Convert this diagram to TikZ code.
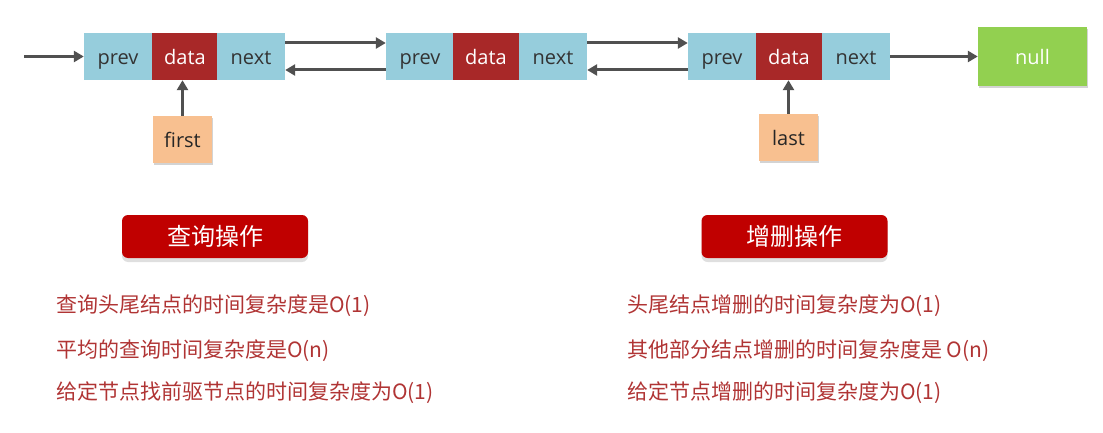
\documentclass[tikz,border=0pt]{standalone}
\usepackage{fontspec}
\setmainfont{Open Sans}
\newfontfamily\cjk{Noto Sans CJK SC}
\usetikzlibrary{arrows.meta,shadows}
\definecolor{cellblue}{RGB}{150,205,220}
\definecolor{datared}{RGB}{168,40,40}
\definecolor{peach}{RGB}{248,192,144}
\definecolor{nullgreen}{RGB}{146,208,80}
\definecolor{hdrred}{RGB}{192,0,0}
\definecolor{txtred}{RGB}{176,52,52}
\definecolor{arrgray}{RGB}{80,80,80}
\begin{document}
\begin{tikzpicture}[x=1pt,y=-1pt,
  cell/.style={fill=cellblue,minimum width=68pt,minimum height=47pt,inner sep=0pt,text=black!80,font=\fontsize{20}{20}\selectfont,text height=17pt,text depth=0pt},
  datacell/.style={cell,fill=datared,minimum width=66pt,text=white},
  ptr/.style={fill=peach,minimum width=59pt,minimum height=47pt,inner sep=0pt,text=black!85,font=\fontsize{20}{20}\selectfont,text height=17pt,text depth=0pt,drop shadow={shadow xshift=1pt,shadow yshift=-2pt,opacity=0.35}},
  nullbox/.style={fill=nullgreen,minimum width=109pt,minimum height=59pt,inner sep=0pt,text=white,font=\fontsize{20}{20}\selectfont,text height=17pt,text depth=0pt,drop shadow={shadow xshift=1pt,shadow yshift=-2pt,opacity=0.35}},
  hdr/.style={fill=hdrred,rounded corners=6pt,minimum width=186pt,minimum height=43pt,inner sep=0pt,text=white,font=\cjk\fontsize{24}{24}\selectfont,drop shadow={shadow xshift=0pt,shadow yshift=-4pt,opacity=0.25}},
  line/.style={anchor=west,inner sep=0pt,text=txtred,font=\cjk\fontsize{21}{21}\selectfont},
  arr/.style={draw=arrgray,line width=3pt,-{Triangle[length=10pt,width=11pt]}}
]
\useasboundingbox (0,0) rectangle (1103,433);
% node 1
\node[cell] (p1) at (118,56.5) {prev};
\node[datacell] (d1) at (185,56.5) {data};
\node[cell] (n1) at (251,56.5) {next};
% node 2
\node[cell] (p2) at (420,56.5) {prev};
\node[datacell] (d2) at (486,56.5) {data};
\node[cell] (n2) at (553,56.5) {next};
% node 3
\node[cell] (p3) at (722,56.5) {prev};
\node[datacell] (d3) at (789,56.5) {data};
\node[cell] (n3) at (856,56.5) {next};
% null
\node[nullbox] (nul) at (1032.5,56.5) {null};
% pointers
\node[ptr] (first) at (182.5,139.5) {first};
\node[ptr] (last) at (788.5,137.5) {last};
\coordinate (start) at (24,56.5);
% arrows
\draw[arr] (start) -- (p1.west);
\draw[arr] ([yshift=13.5pt]n1.east) -- ([yshift=13.5pt]p2.west);
\draw[arr] ([yshift=-13.5pt]p2.west) -- ([yshift=-13.5pt]n1.east);
\draw[arr] ([yshift=13.5pt]n2.east) -- ([yshift=13.5pt]p3.west);
\draw[arr] ([yshift=-13.5pt]p3.west) -- ([yshift=-13.5pt]n2.east);
\draw[arr] (n3.east) -- (nul.west);
\draw[arr] (first.north) -- (first.north |- d1.south);
\draw[arr] (last.north) -- (last.north |- d3.south);
% headers
\node[hdr] (h1) at (215,236.5) {查询操作};
\node[hdr] (h2) at (794.5,236.5) {增删操作};
% text lines
\node[line] (l1) at (56,306) {查询头尾结点的时间复杂度是O(1)};
\node[line] (l2) at (56,351) {平均的查询时间复杂度是O(n)};
\node[line] (l3) at (56,393) {给定节点找前驱节点的时间复杂度为O(1)};
\node[line] (r1) at (627,306) {头尾结点增删的时间复杂度为O(1)};
\node[line] (r2) at (627,351) {其他部分结点增删的时间复杂度是 O(n)};
\node[line] (r3) at (627,393) {给定节点增删的时间复杂度为O(1)};
\end{tikzpicture}
\end{document}
